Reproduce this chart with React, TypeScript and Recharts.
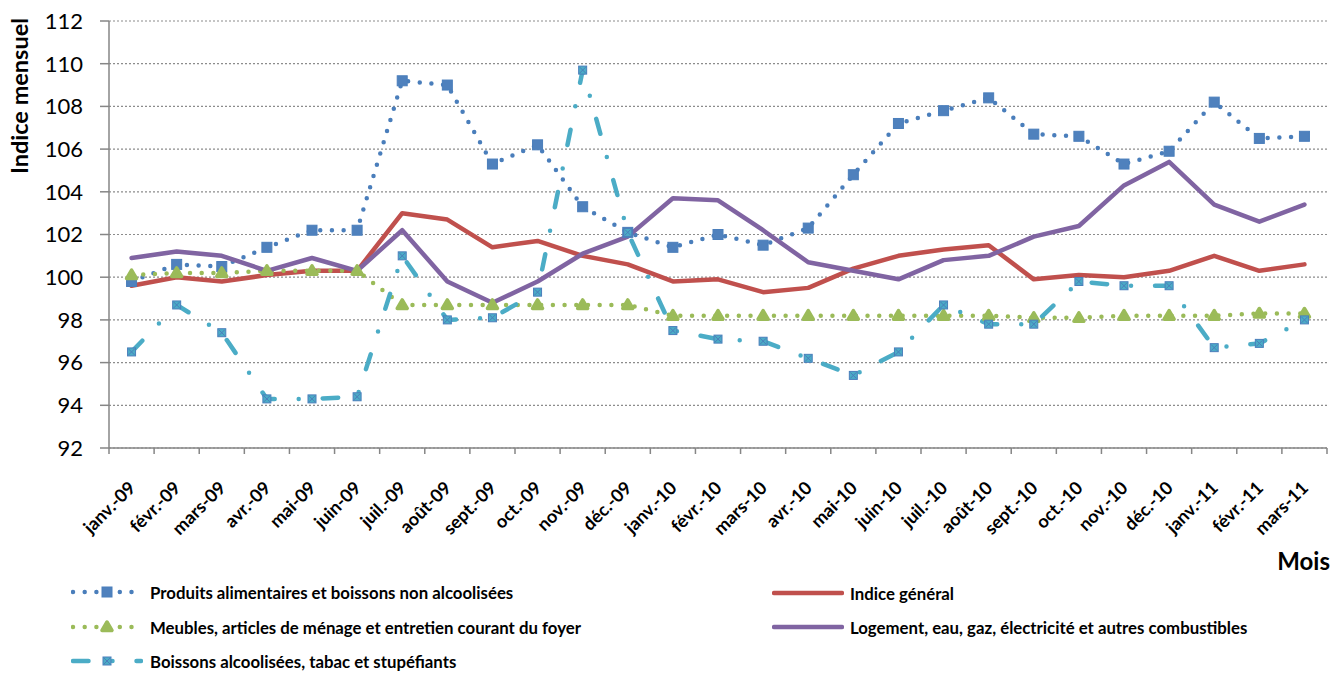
import React from "react";
import { LineChart, Line, XAxis, YAxis, CartesianGrid } from "recharts";

const months = [
  "janv.-09", "févr.-09", "mars-09", "avr.-09", "mai-09", "juin-09", "juil.-09", "août-09", "sept.-09",
  "oct.-09", "nov.-09", "déc.-09", "janv.-10", "févr.-10", "mars-10", "avr.-10", "mai-10", "juin-10",
  "juil.-10", "août-10", "sept.-10", "oct.-10", "nov.-10", "déc.-10", "janv.-11", "févr.-11", "mars-11",
];

const produits = [
  99.8, 100.6, 100.5, 101.4, 102.2, 102.2, 109.2, 109.0, 105.3, 106.2, 103.3, 102.1, 101.4, 102.0,
  101.5, 102.3, 104.8, 107.2, 107.8, 108.4, 106.7, 106.6, 105.3, 105.9, 108.2, 106.5, 106.6,
];
const indice = [
  99.6, 100.0, 99.8, 100.1, 100.3, 100.3, 103.0, 102.7, 101.4, 101.7, 101.0, 100.6, 99.8, 99.9,
  99.3, 99.5, 100.4, 101.0, 101.3, 101.5, 99.9, 100.1, 100.0, 100.3, 101.0, 100.3, 100.6,
];
const meubles = [
  100.1, 100.2, 100.2, 100.3, 100.3, 100.3, 98.7, 98.7, 98.7, 98.7, 98.7, 98.7, 98.2, 98.2,
  98.2, 98.2, 98.2, 98.2, 98.2, 98.2, 98.1, 98.1, 98.2, 98.2, 98.2, 98.3, 98.3,
];
const logement = [
  100.9, 101.2, 101.0, 100.3, 100.9, 100.3, 102.2, 99.8, 98.8, 99.8, 101.1, 101.9, 103.7, 103.6,
  102.2, 100.7, 100.3, 99.9, 100.8, 101.0, 101.9, 102.4, 104.3, 105.4, 103.4, 102.6, 103.4,
];
const boissons = [
  96.5, 98.7, 97.4, 94.3, 94.3, 94.4, 101.0, 98.0, 98.1, 99.3, 109.7, 102.1, 97.5, 97.1,
  97.0, 96.2, 95.4, 96.5, 98.7, 97.8, 97.8, 99.8, 99.6, 99.6, 96.7, 96.9, 98.0,
];

const yTicks = [92, 94, 96, 98, 100, 102, 104, 106, 108, 110, 112];

const data = months.map((month, i) => ({
  month,
  produits: produits[i],
  indice: indice[i],
  meubles: meubles[i],
  logement: logement[i],
  boissons: boissons[i],
}));

type Marker = "square" | "triangle" | "xsquare" | "none";

const series: {
  key: string;
  name: string;
  color: string;
  width: number;
  dash?: string;
  marker: Marker;
}[] = [
  { key: "produits", name: "Produits alimentaires et boissons non alcoolisées", color: "#4A7EBB", width: 4.5, dash: "0 11.7", marker: "square" },
  { key: "indice", name: "Indice général", color: "#C0504D", width: 4.5, marker: "none" },
  { key: "meubles", name: "Meubles, articles de ménage et entretien courant du foyer", color: "#9BBB59", width: 4.5, dash: "0 11.7", marker: "triangle" },
  { key: "logement", name: "Logement, eau, gaz, électricité et autres combustibles", color: "#8064A2", width: 4.5, marker: "none" },
  { key: "boissons", name: "Boissons alcoolisées, tabac et stupéfiants", color: "#4BACC6", width: 4.5, dash: "15.5 24 0 24", marker: "xsquare" },
];

const W = 1342;
const H = 673;
const M = { top: 21, right: 15, left: 49, bottom: 165 };
const Y_W = 60;
const X_H = 60;
const PLOT_W = W - M.left - Y_W - M.right;
const HALF = PLOT_W / months.length / 2;
const AXIS = "#868686";
const FONT = "Lato, 'Open Sans', sans-serif";

function drawMarker(kind: Marker, cx: number, cy: number, k: string) {
  if (kind === "square") {
    return <rect key={k} x={cx - 5} y={cy - 5} width={10} height={10} fill="#4F81BD" stroke="#4A7EBB" strokeWidth={1} />;
  }
  if (kind === "triangle") {
    return (
      <path
        key={k}
        d={`M${cx},${cy - 5} L${cx + 5},${cy + 3.5} L${cx - 5},${cy + 3.5} Z`}
        fill="#9BBB59"
        stroke="#9BBB59"
        strokeWidth={3.5}
        strokeLinejoin="round"
      />
    );
  }
  if (kind === "xsquare") {
    return (
      <g key={k}>
        <rect x={cx - 4} y={cy - 4} width={8} height={8} fill="#4BACC6" stroke="#4A7EBB" strokeWidth={1} />
        <path d={`M${cx - 3},${cy - 3} L${cx + 3},${cy + 3} M${cx + 3},${cy - 3} L${cx - 3},${cy + 3}`} stroke="#4A7EBB" strokeWidth={1} />
      </g>
    );
  }
  return <g key={k} />;
}

const XTick = (props: any) => {
  const { x, y, payload } = props;
  const i = months.indexOf(payload.value);
  return (
    <g>
      <line x1={x - HALF} x2={x - HALF} y1={y} y2={y + 6} stroke={AXIS} strokeWidth={1.5} />
      {i === months.length - 1 && (
        <line x1={x + HALF} x2={x + HALF} y1={y} y2={y + 6} stroke={AXIS} strokeWidth={1.5} />
      )}
      <text
        transform={`translate(${x + 5},${y + 41}) rotate(-45)`}
        textAnchor="end"
        fontSize={18}
        fontWeight={700}
        fill="#000"
      >
        {payload.value}
      </text>
    </g>
  );
};

const LegendItem = ({ s, left, top, textLeft }: any) => (
  <div style={{ position: "absolute", left, top: top - 10, height: 20, display: "flex", alignItems: "center" }}>
    <svg width={72} height={20} style={{ display: "block" }}>
      <line
        x1={2}
        x2={70}
        y1={10}
        y2={10}
        stroke={s.color}
        strokeWidth={s.width}
        strokeDasharray={s.dash}
        strokeLinecap="round"
      />
      {drawMarker(s.marker, 36, 10, "m")}
    </svg>
    <span
      style={{
        position: "absolute",
        left: textLeft - left,
        whiteSpace: "nowrap",
        fontSize: 16.8,
        fontWeight: 700,
        color: "#000",
      }}
    >
      {s.name}
    </span>
  </div>
);

const App = () => {
  return (
    <div style={{ position: "absolute", left: 0, top: 0, width: W, height: H, background: "#fff", fontFamily: FONT }}>
      <LineChart width={W} height={H} data={data} margin={M}>
        <CartesianGrid vertical={false} stroke="#8c8c8c" strokeDasharray="2 2" strokeWidth={1.2} />
        <XAxis
          dataKey="month"
          interval={0}
          height={X_H}
          padding={{ left: HALF, right: HALF }}
          tickSize={0}
          tickMargin={0}
          tickLine={false}
          axisLine={{ stroke: AXIS, strokeWidth: 1.5 }}
          tick={<XTick />}
        />
        <YAxis
          domain={[92, 112]}
          ticks={yTicks}
          width={Y_W}
          tickSize={9}
          tickMargin={17}
          tickLine={{ stroke: AXIS, strokeWidth: 1.5 }}
          axisLine={{ stroke: AXIS, strokeWidth: 1.5 }}
          tick={{ fontSize: 22, fill: "#000" }}
          interval={0}
        />
        {series.map((s) => (
          <Line
            key={s.key}
            dataKey={s.key}
            name={s.name}
            type="linear"
            stroke={s.color}
            strokeWidth={s.width}
            strokeDasharray={s.dash}
            strokeLinecap="round"
            strokeLinejoin="round"
            isAnimationActive={false}
            activeDot={false}
            dot={(p: any) => drawMarker(s.marker, p.cx, p.cy, `${s.key}-${p.index}`)}
          />
        ))}
      </LineChart>

      <div
        style={{
          position: "absolute",
          left: 19,
          top: 96,
          transform: "translate(-50%, -50%) rotate(-90deg)",
          whiteSpace: "nowrap",
          fontSize: 23.5,
          fontWeight: 700,
          color: "#000",
        }}
      >
        Indice mensuel
      </div>
      <div
        style={{
          position: "absolute",
          right: 12,
          top: 547,
          fontSize: 24,
          fontWeight: 700,
          color: "#000",
          lineHeight: "28px",
        }}
      >
        Mois
      </div>

      <LegendItem s={series[0]} left={71} top={592} textLeft={150} />
      <LegendItem s={series[2]} left={71} top={627} textLeft={150} />
      <LegendItem s={series[4]} left={71} top={661} textLeft={150} />
      <LegendItem s={series[1]} left={772} top={593} textLeft={850} />
      <LegendItem s={series[3]} left={772} top={627} textLeft={850} />
    </div>
  );
};

export default App;
